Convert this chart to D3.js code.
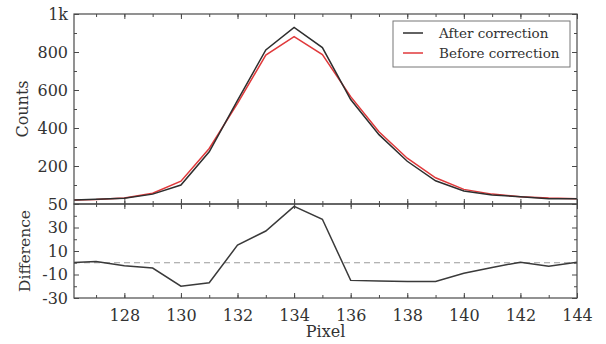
<!DOCTYPE html>
<html>
<head>
<meta charset="utf-8">
<script src="https://cdn.jsdelivr.net/npm/d3@7"></script>
<style>
  html, body { margin: 0; padding: 0; background: #fff; }
  svg { display: block; font-family: "DejaVu Serif", serif; }
</style>
</head>
<body>
<div id="chart"></div>
<script>
// pixel positions along the detector
const pixels = [126, 127, 128, 129, 130, 131, 132, 133, 134, 135, 136, 137, 138, 139, 140, 141, 142, 143, 144];
const afterCorrection = [20, 25, 30, 52, 100, 275, 545, 811, 929, 823, 550, 365, 225, 122, 68, 48, 38, 28, 28];
const beforeCorrection = [20, 24, 32, 57, 120, 292, 530, 784, 881, 786, 565, 380, 241, 138, 77, 52, 38, 31, 28];
const difference = [0, 1, -2.5, -4.5, -20, -17, 15, 27, 48, 37, -15, -15.5, -16, -16, -9, -4, 0.5, -3, 0.5];

const xTicks = [128, 130, 132, 134, 136, 138, 140, 142, 144];
const countTicks = [200, 400, 600, 800, 1000];
const diffTicks = [50, 30, 10, -10, -30];

const width = 606, height = 344;
const left = 74, right = 577;
const top1 = 14, bottom1 = 204, bottom2 = 298;

const svg = d3.select('#chart').append('svg')
  .attr('width', width)
  .attr('height', height);

const x = d3.scaleLinear().domain([126.22, 144]).range([left, right]);
const yCounts = d3.scaleLinear().domain([0, 1000]).range([bottom1, top1]);
const yDiff = d3.scaleLinear().domain([-30, 50]).range([bottom2, bottom1]);

const frameColor = '#4a4a4a';
const textColor = '#333';

// clip paths for both panels
const defs = svg.append('defs');
defs.append('clipPath').attr('id', 'clipTop')
  .append('rect').attr('x', left).attr('y', top1)
  .attr('width', right - left).attr('height', bottom1 - top1);
defs.append('clipPath').attr('id', 'clipBottom')
  .append('rect').attr('x', left).attr('y', bottom1)
  .attr('width', right - left).attr('height', bottom2 - bottom1);

function styleAxis(g) {
  g.select('.domain').remove();
  g.selectAll('line').attr('stroke', frameColor).attr('stroke-width', 1);
  g.selectAll('text').attr('fill', textColor).attr('font-size', 16)
    .attr('font-family', '"DejaVu Serif", serif');
}

const xMinor = d3.range(127, 145, 1);

// inward x ticks on the edges of each panel
function xEdgeTicks(y, side, showLabels) {
  const minor = (side === 'bottom' ? d3.axisBottom(x) : d3.axisTop(x))
    .tickValues(xMinor).tickSize(-3).tickFormat('');
  svg.append('g').attr('transform', `translate(0,${y})`).call(minor).call(styleAxis);
  const major = (side === 'bottom' ? d3.axisBottom(x) : d3.axisTop(x))
    .tickValues(xTicks).tickSize(-5).tickPadding(12)
    .tickFormat(showLabels ? d3.format('d') : '');
  svg.append('g').attr('transform', `translate(0,${y})`).call(major).call(styleAxis);
}

xEdgeTicks(top1, 'top', false);
xEdgeTicks(bottom1, 'bottom', false);
xEdgeTicks(bottom1, 'top', false);
xEdgeTicks(bottom2, 'bottom', true);

// y ticks on both sides of a panel
function yEdgeTicks(scale, majors, minors, fmt) {
  svg.append('g').attr('transform', `translate(${left},0)`)
    .call(d3.axisLeft(scale).tickValues(minors).tickSize(-3).tickFormat(''))
    .call(styleAxis);
  svg.append('g').attr('transform', `translate(${right},0)`)
    .call(d3.axisRight(scale).tickValues(minors).tickSize(-3).tickFormat(''))
    .call(styleAxis);
  svg.append('g').attr('transform', `translate(${left},0)`)
    .call(d3.axisLeft(scale).tickValues(majors).tickSize(-5).tickPadding(6).tickFormat(fmt))
    .call(styleAxis);
  svg.append('g').attr('transform', `translate(${right},0)`)
    .call(d3.axisRight(scale).tickValues(majors).tickSize(-5).tickFormat(''))
    .call(styleAxis);
}

yEdgeTicks(yCounts, countTicks, d3.range(100, 1000, 100),
  d => d === 1000 ? '1k' : d3.format('d')(d));
yEdgeTicks(yDiff, diffTicks, d3.range(-20, 50, 20), d => String(d));

// zero reference in the difference panel
svg.append('line')
  .attr('x1', left).attr('x2', right)
  .attr('y1', yDiff(0)).attr('y2', yDiff(0))
  .attr('stroke', '#9a9a9a').attr('stroke-width', 1.2)
  .attr('stroke-dasharray', '6,4');

const countLine = d3.line()
  .x((d, i) => x(pixels[i]))
  .y(d => yCounts(d));

const diffLine = d3.line()
  .x((d, i) => x(pixels[i]))
  .y(d => yDiff(d));

const topPanel = svg.append('g').attr('clip-path', 'url(#clipTop)');
topPanel.append('path').datum(beforeCorrection)
  .attr('d', countLine).attr('fill', 'none')
  .attr('stroke', '#e0393b').attr('stroke-width', 1.5);
topPanel.append('path').datum(afterCorrection)
  .attr('d', countLine).attr('fill', 'none')
  .attr('stroke', '#2e2e2e').attr('stroke-width', 1.5);

svg.append('g').attr('clip-path', 'url(#clipBottom)')
  .append('path').datum(difference)
  .attr('d', diffLine).attr('fill', 'none')
  .attr('stroke', '#3a3a3a').attr('stroke-width', 1.5);

// panel frames
svg.append('rect').attr('x', left).attr('y', top1)
  .attr('width', right - left).attr('height', bottom1 - top1)
  .attr('fill', 'none').attr('stroke', frameColor).attr('stroke-width', 1.2);
svg.append('rect').attr('x', left).attr('y', bottom1)
  .attr('width', right - left).attr('height', bottom2 - bottom1)
  .attr('fill', 'none').attr('stroke', frameColor).attr('stroke-width', 1.2);

// axis labels
svg.append('text')
  .attr('transform', `translate(28,${(top1 + bottom1) / 2}) rotate(-90)`)
  .attr('text-anchor', 'middle').attr('font-size', 16).attr('fill', textColor)
  .text('Counts');
svg.append('text')
  .attr('transform', `translate(30,${(bottom1 + bottom2) / 2}) rotate(-90)`)
  .attr('text-anchor', 'middle').attr('font-size', 15.5).attr('fill', textColor)
  .text('Difference');
svg.append('text')
  .attr('x', (left + right) / 2).attr('y', 337)
  .attr('text-anchor', 'middle').attr('font-size', 16).attr('fill', textColor)
  .text('Pixel');

// legend
const legendItems = [
  { label: 'After correction', color: '#2e2e2e' },
  { label: 'Before correction', color: '#e0393b' }
];
const legend = svg.append('g').attr('transform', 'translate(393,21)');
legend.append('rect')
  .attr('width', 177).attr('height', 46)
  .attr('fill', '#fff').attr('stroke', '#777').attr('stroke-width', 1);
legendItems.forEach((item, i) => {
  const row = legend.append('g').attr('transform', `translate(0,${12 + i * 20})`);
  row.append('line').attr('x1', 10).attr('x2', 30)
    .attr('stroke', item.color).attr('stroke-width', 1.5);
  row.append('text').attr('x', 46).attr('y', 5)
    .attr('font-size', 13.5).attr('fill', textColor)
    .text(item.label);
});
</script>
</body>
</html>
